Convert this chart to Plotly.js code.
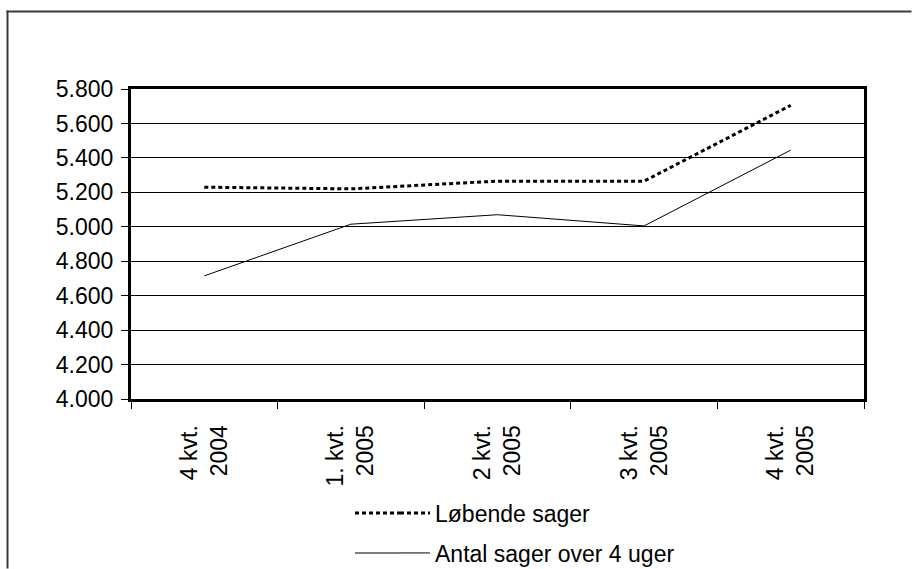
<!DOCTYPE html>
<html>
<head>
<meta charset="utf-8">
<script src="https://cdn.plot.ly/plotly-3.0.1.min.js"></script>
<style>html,body{margin:0;padding:0;background:#fff;overflow:hidden;}#chart{width:912px;height:569px;}</style>
</head>
<body>
<div id="chart"></div>
<script>
// Data
var categories = ["4 kvt.<br>2004", "1. kvt.<br>2005", "2 kvt.<br>2005", "3 kvt.<br>2005", "4 kvt.<br>2005"];
var loebendeSager = [5230, 5220, 5265, 5265, 5705];
var antalOver4Uger = [4715, 5015, 5070, 5005, 5445];
var seriesNames = ["Løbende sager", "Antal sager over 4 uger"];

var W = 912, H = 569;
var L = 131, R = 864, T = 89, B = 399;
function px(x){ return (x - L) / (R - L); }
function py(y){ return (B - y) / (B - T); }

var dotDash = '4px,3px';
var traces = [
  {x: categories, y: loebendeSager, name: seriesNames[0], type: 'scatter', mode: 'lines',
   line: {color: '#000', width: 3, dash: dotDash}, legend: 'legend'},
  {x: categories, y: antalOver4Uger, name: seriesNames[1], type: 'scatter', mode: 'lines',
   line: {color: '#000', width: 1}, legend: 'legend2'}
];

var legendFont = {family: 'Liberation Sans, Arial, sans-serif', size: 23, color: '#000'};
var legX = 395;
var layout = {
  width: W, height: H,
  paper_bgcolor: '#fff', plot_bgcolor: '#fff',
  margin: {l: L, r: W - R, t: T, b: H - B, pad: 0, autoexpand: false},
  separators: ',.',
  font: {family: 'Liberation Sans, Arial, sans-serif', size: 23, color: '#000'},
  xaxis: {
    type: 'category', range: [-0.5, 4.5], automargin: false,
    showline: true, linecolor: '#000', linewidth: 3, mirror: true,
    ticks: 'outside', tickson: 'boundaries', ticklen: 7, tickwidth: 1, tickcolor: '#000',
    tickangle: -90, showgrid: false, zeroline: false, ticklabelstandoff: 14,
    tickfont: {size: 23}
  },
  yaxis: {
    range: [4000, 5800], dtick: 200, tick0: 4000, tickformat: ',.0f', automargin: false,
    showline: true, linecolor: '#000', linewidth: 3, mirror: true,
    ticks: 'outside', ticklen: 7, tickwidth: 1, tickcolor: '#000',
    showgrid: true, gridcolor: '#000', gridwidth: 1, zeroline: false,
    ticklabelstandoff: 3, tickfont: {size: 23}
  },
  showlegend: true,
  legend: {xref: 'container', yref: 'container', x: legX / W, y: 1 - 513 / H,
           xanchor: 'left', yanchor: 'middle', font: legendFont, bgcolor: 'rgba(0,0,0,0)',
           borderwidth: 0},
  legend2: {xref: 'container', yref: 'container', x: legX / W, y: 1 - 553 / H,
           xanchor: 'left', yanchor: 'middle', font: legendFont, bgcolor: 'rgba(0,0,0,0)',
           borderwidth: 0},
  shapes: [
    {type: 'line', xref: 'paper', yref: 'paper',
     x0: px(7.5), x1: px(7.5), y0: py(10.5), y1: py(568.5),
     line: {color: '#3a3a3a', width: 2}},
    {type: 'line', xref: 'paper', yref: 'paper',
     x0: px(6.5), x1: px(911.5), y0: py(11.5), y1: py(11.5),
     line: {color: '#3a3a3a', width: 2}},
    {type: 'line', xref: 'paper', yref: 'paper', x0: px(355), x1: px(legX + 5), y0: py(513), y1: py(513),
     line: {color: '#000', width: 3, dash: dotDash}},
    {type: 'line', xref: 'paper', yref: 'paper', x0: px(355), x1: px(legX + 5), y0: py(553), y1: py(553),
     line: {color: '#000', width: 1}}
  ]
};

Plotly.newPlot('chart', traces, layout, {displayModeBar: false, staticPlot: true});
</script>
</body>
</html>
